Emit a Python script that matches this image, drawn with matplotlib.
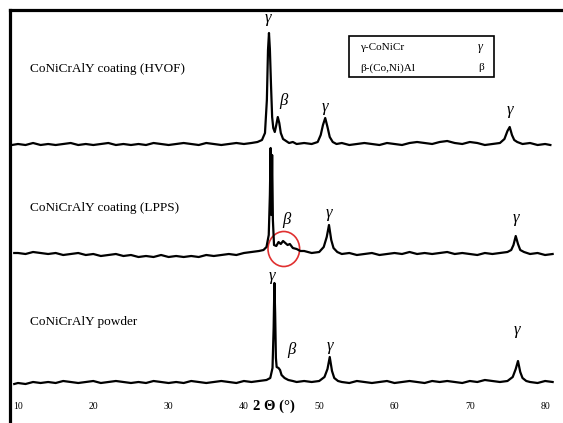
import numpy as np
import matplotlib.pyplot as plt
from matplotlib.patches import Rectangle, Ellipse

# XRD patterns: 2-theta (deg) and intensity above each trace's own baseline (a.u.)
hvof_2theta = [9.2, 10, 11, 12, 13, 14, 15, 16, 17, 18, 19, 20, 21, 22, 23, 24, 25, 26, 27, 28, 29, 30,
               31, 32, 33, 34, 35, 36, 37, 38, 39, 40, 41,
               41.8, 42.4, 42.8, 43.05, 43.2, 43.33, 43.45, 43.6, 43.75, 43.9,
               44.1, 44.3, 44.5, 44.7, 44.9, 45.2, 45.6, 46, 46.5, 47,
               48, 49, 49.8, 50.2, 50.5, 50.8, 51.1, 51.4, 51.8, 52.3,
               53, 54, 55, 56, 57, 58, 59, 60, 61, 62, 63, 64, 65, 66, 67, 68, 69, 70, 71, 72, 73, 74,
               74.6, 75.0, 75.3, 75.6, 75.9, 76.3,
               77, 78, 79, 80, 80.7]
hvof_int = [0, 1, 0, 2, 0, 1, 0, 1, 2, 0, 1, 0, 1, 2, 0, 1, 0, 1, 0, 2, 1, 0,
            1, 2, 1, 0, 2, 1, 0, 1, 2, 1, 2,
            3, 5, 12, 45, 95, 112, 96, 60, 28, 17,
            13, 20, 28, 22, 12, 6, 4, 2, 3, 1,
            2, 1, 3, 10, 20, 27, 18, 8, 3, 1,
            2, 0, 1, 2, 1, 0, 2, 1, 0, 2, 3, 2, 1, 3, 4, 2, 1, 3, 2, 0, 1, 2,
            6, 14, 18, 10, 5, 3,
            1, 2, 0, 1, 0]

lpps_2theta = [9.5, 10, 11, 12, 13, 14, 15, 16, 17, 18, 19, 20, 21, 22, 23, 24, 25, 26, 27, 28, 29, 30,
               31, 32, 33, 34, 35, 36, 37, 38, 39, 40, 41, 42,
               42.6, 43.0, 43.3, 43.45, 43.55, 43.65, 43.75, 43.85, 44.0, 44.3, 44.6, 44.9, 45.2, 45.5,
               45.8, 46.1, 46.5, 47, 47.5, 48, 49, 50, 50.6, 51.0, 51.3, 51.6, 51.9, 52.4,
               53, 54, 55, 56, 57, 58, 59, 60, 61, 62, 63, 64, 65, 66, 67, 68, 69, 70, 71, 72, 73, 74, 75,
               75.5, 75.8, 76.1, 76.4, 76.7, 77.2,
               78, 79, 80, 81]
lpps_int = [2, 2, 1, 3, 2, 1, 2, 0, 1, 2, 0, 1, -1, 0, 1, -1, 0, -2, -1, -2, 0, -2,
            -1, -2, -1, -2, 0, -1, 0, 1, 0, 2, 3, 4,
            5, 8, 20, 60, 107, 40, 100, 35, 10, 9, 13, 11, 14, 12,
            10, 11, 7, 6, 4, 4, 2, 3, 8, 18, 30, 15, 7, 3,
            1, 2, 0, 1, 2, 0, 1, 2, 1, 3, 1, 2, 1, 2, 3, 1, 2, 1, 0, 2, 1, 2, 3,
            5, 10, 19, 11, 5, 3,
            1, 2, 0, 1]

powder_2theta = [9.5, 10, 11, 12, 13, 14, 15, 16, 17, 18, 19, 20, 21, 22, 23, 24, 25, 26, 27, 28, 29, 30,
                 31, 32, 33, 34, 35, 36, 37, 38, 39, 40, 41, 42, 43,
                 43.5, 43.8, 43.95, 44.05, 44.15, 44.25, 44.35, 44.6, 44.8, 45.0, 45.4, 45.9,
                 46.5, 47, 48, 49, 50, 50.7, 51.1, 51.4, 51.7, 52.0, 52.5,
                 53, 54, 55, 56, 57, 58, 59, 60, 61, 62, 63, 64, 65, 66, 67, 68, 69, 70, 71, 72, 73, 74, 75,
                 75.7, 76.1, 76.4, 76.7, 77.0, 77.5,
                 78, 79, 80, 81]
powder_int = [-1, 0, -1, 1, 0, 1, 0, 2, 1, 0, 1, 2, 0, 1, 2, 1, 0, 1, 0, 2, 1, 0,
              1, 0, 2, 1, 0, 1, 2, 1, 0, 2, 1, 2, 3,
              5, 15, 55, 100, 70, 25, 16, 15, 13, 8, 5, 3,
              2, 1, 2, 1, 2, 6, 14, 26, 12, 5, 2,
              1, 0, 2, 1, 0, 1, 2, 0, 1, 2, 1, 0, 2, 1, 2, 1, 0, 2, 1, 3, 2, 1, 2,
              6, 14, 22, 11, 5, 2,
              1, 0, 2, 1]

sample_names = ['CoNiCrAlY coating (HVOF)', 'CoNiCrAlY coating (LPPS)', 'CoNiCrAlY powder']
offsets = [278, 168, 40]
tick_vals = [10, 20, 30, 40, 50, 60, 70, 80]

# peak labels: (sample index, 2theta, height above baseline, phase)
peak_labels = [(0, 43.2, 127, 'γ'), (0, 45.2, 44, 'β'), (0, 50.8, 38, 'γ'), (0, 75.3, 35, 'γ'),
               (1, 45.6, 35, 'β'), (1, 51.3, 42, 'γ'), (1, 76.1, 37, 'γ'),
               (2, 43.7, 107, 'γ'), (2, 46.3, 33, 'β'), (2, 51.4, 37, 'γ'), (2, 76.3, 53, 'γ')]

plt.rcParams['font.family'] = ['Liberation Serif', 'DejaVu Serif']

fig = plt.figure(figsize=(5.63, 4.23), dpi=100)
ax = fig.add_axes([9.5 / 563, 0, 1 - 9.5 / 563, 1 - 10 / 423])

traces = [(hvof_2theta, hvof_int), (lpps_2theta, lpps_int), (powder_2theta, powder_int)]
for (tt, inten), off in zip(traces, offsets):
    ax.plot(tt, np.array(inten) + off, color='black', lw=1.6)

for i, name in enumerate(sample_names):
    ypos = [354, 215, 101][i]
    ax.text(11.6, ypos, name, fontsize=9.5, va='center', ha='left')

for i, tt, h, ph in peak_labels:
    ax.text(tt, offsets[i] + h, ph, fontsize=12, style='italic', ha='center', va='center')

# phase key box
ax.add_patch(Rectangle((54.0, 346), 19.2, 41, fill=False, lw=1.2, ec='black'))
ax.text(55.4, 376, 'γ-CoNiCr', fontsize=8, va='center')
ax.text(71.1, 376, 'γ', fontsize=9, style='italic', va='center')
ax.text(55.4, 355, 'β-(Co,Ni)Al', fontsize=8, va='center')
ax.text(71.1, 355, 'β', fontsize=8, va='center')

# red circle around the broad beta hump of the LPPS coating
ax.add_patch(Ellipse((45.3, 174), 4.2, 35, fill=False, ec='#e03030', lw=1.2))

ax.text(44.0, 17, '2 Θ (°)', fontsize=10.5, fontweight='bold', ha='center', va='center')

ax.set_xlim(10 - 8.5 / 7.53, 10 + 545 / 7.53)
ax.set_ylim(0, 413)
ax.set_xticks(tick_vals)
ax.set_xticklabels([str(v) for v in tick_vals], fontsize=7)
ax.tick_params(axis='x', length=0, pad=-15)
ax.set_yticks([])
ax.spines['right'].set_visible(False)
ax.spines['bottom'].set_visible(False)
ax.spines['left'].set_linewidth(2.3)
ax.spines['top'].set_linewidth(2.3)

fig.savefig('out.png', dpi=100)
